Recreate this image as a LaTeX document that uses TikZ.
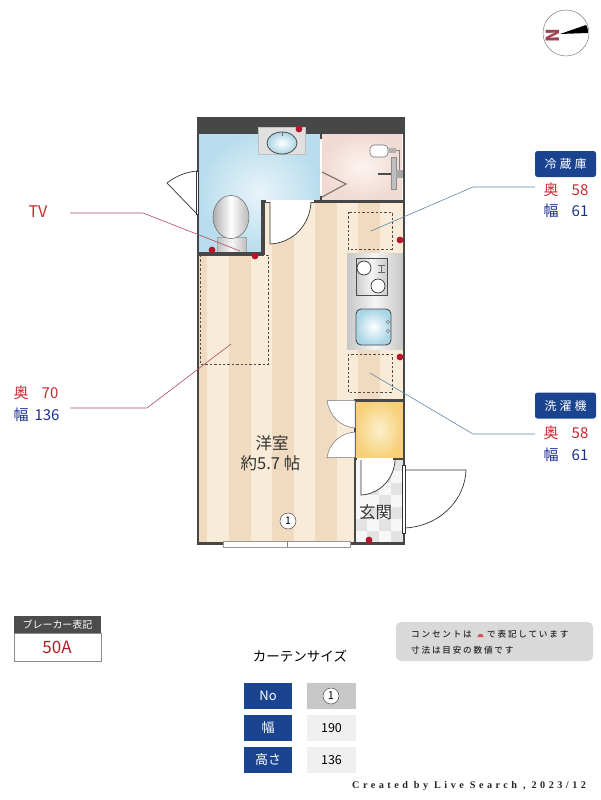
\documentclass[tikz,border=0pt]{standalone}
\usepackage{fontspec}
\setmainfont{Noto Sans CJK JP}
\newfontfamily\spacedcjk[LetterSpace=21]{Noto Sans CJK JP Medium}
\newfontfamily\widecjk[LetterSpace=25]{Noto Sans CJK JP}
\newfontfamily\creditfont[LetterSpace=34]{Liberation Serif}
\usetikzlibrary{shadings}
\definecolor{wallc}{HTML}{474747}
\definecolor{stripeA}{HTML}{F8ECD8}
\definecolor{stripeB}{HTML}{F1DBC0}
\definecolor{navy}{HTML}{1A4490}
\definecolor{redtxt}{HTML}{C8282D}
\definecolor{bluetxt}{HTML}{1B2F8E}
\definecolor{outlet}{HTML}{B5142A}
\definecolor{redline}{HTML}{B04A60}
\definecolor{blueline}{HTML}{5E86A6}
\definecolor{bathin}{HTML}{E8F4F9}
\definecolor{bathout}{HTML}{B9DDEE}
\definecolor{pinkin}{HTML}{FBF4F0}
\definecolor{pinkout}{HTML}{F1DAD2}
\definecolor{closetin}{HTML}{FBF0CC}
\definecolor{closetout}{HTML}{F7D078}
\definecolor{basinout}{HTML}{A9D5E6}
\definecolor{doorfold}{HTML}{857A73}
\newcommand{\fs}[1]{\fontsize{#1}{#1}\selectfont}
\tikzset{
  wall/.style={fill=wallc,draw=none},
  doorleaf/.style={fill=white,draw=black!80,line width=0.7pt},
  outletdot/.style={fill=outlet,draw=none},
  dashbox/.style={draw=black!70,dashed,dash pattern=on 2.4pt off 2pt,line width=0.6pt},
  redlead/.style={draw=redline,line width=0.6pt},
  bluelead/.style={draw=blueline,line width=0.6pt},
  headbox/.style={fill=navy,draw=none,text=white,minimum width=48pt,minimum height=26pt,inner sep=0pt,font=\fs{13}},
  valbox/.style={fill=black!6,draw=none,minimum width=49pt,minimum height=26pt,inner sep=0pt,font=\fs{12.5}},
  roomtxt/.style={inner sep=0pt,font=\fs{16.5},text=black!80},
  sizered/.style={inner sep=0pt,text=redtxt,font=\fs{15}},
  sizeblue/.style={inner sep=0pt,text=bluetxt,font=\fs{15}},
  fixhead/.style={fill=navy,draw=none,rounded corners=2.5pt,text=white,minimum width=61pt,minimum height=26pt,inner sep=0pt,font=\widecjk\fs{12}},
  basin/.style={draw=black!70,line width=0.8pt,inner color=white,outer color=basinout},
}
\begin{document}
\begin{tikzpicture}[x=1pt,y=-1pt]
\useasboundingbox (0,0) rectangle (600,800);
\fill[white] (0,0) rectangle (600,800);
% floor stripes
\fill[stripeB] (198,200) rectangle (404,543);
\foreach \a/\b in {207/229,251/272,294/315,337/358,380/403}{
  \fill[stripeA] (\a,200) rectangle (\b,543);
}
% bath room
\shade[inner color=bathin,outer color=bathout] (199,134) -- (320,134) -- (320,200) -- (262,200) -- (262,252) -- (199,252) -- cycle;
% shower room
\shade[inner color=pinkin,outer color=pinkout] (322,134) rectangle (402,200);
% closet
\shade[inner color=closetin,outer color=closetout] (355,400) rectangle (403,459);
% entrance tiles
\fill[black!3] (355,459) rectangle (403,543);
\foreach \x/\y in {391/459,379/471,391/483,367/483,379/495,391/507,367/507,379/519,355/519,391/531,367/531}{
  \fill[black!11] (\x,\y) rectangle ++(12,12);
}
% kitchen
\shade[left color=black!22,right color=black!22,middle color=black!4] (347,253) rectangle (403,349);
\draw[draw=black!70,line width=0.8pt,left color=black!20,right color=black!20,middle color=black!4] (356,258) rectangle (387,295);
\draw[fill=white,draw=black!80,line width=0.7pt] (364,268) circle[radius=7];
\draw[fill=white,draw=black!80,line width=0.7pt] (378,286) circle[radius=7];
\draw[draw=black!60,line width=0.7pt] (378,265) -- (385,265) (378,272) -- (385,272) (381.5,265) -- (381.5,272);
\draw[draw=black!70,line width=0.9pt,rounded corners=5pt,inner color=white,outer color=basinout] (356,309) rectangle (391,345);
\draw[draw=black!50,line width=0.6pt] (388,322) circle[radius=1.8] (388,331) circle[radius=1.8];
% toilet
\draw[draw=black!35,line width=0.5pt,left color=black!25,right color=black!25,middle color=black!3] (217,237) rectangle (246,252);
\draw[draw=black!55,line width=0.6pt,left color=black!32,right color=black!28,middle color=white] (231,217) ellipse[x radius=18,y radius=21.5];
% shower fittings
\draw[draw=black!55,line width=0.6pt,fill=white,rounded corners=4pt] (370,145) rectangle (388,157);
\fill[black!30] (388,148) rectangle (396,153);
\draw[black!50,line width=0.8pt] (396,150) -- (399,150) -- (399,172);
\draw[draw=black!45,fill=black!25,line width=0.4pt] (391,157) rectangle (396,189);
\fill[black!35] (396,170) rectangle (403,178);
\fill[black!70] (378,172.5) rectangle (391,174.5);
% walls
\fill[wall] (197,117) rectangle (405,134);
\fill[wall] (197,134) rectangle (199,545);
\fill[wall] (402.5,134) rectangle (405,545);
\fill[wall] (197,252) rectangle (264,255.5);
\fill[wall] (261,200) rectangle (264.5,255);
\fill[wall] (261,200) rectangle (404,202.5);
\fill[wall] (320,134) rectangle (322,200);
\fill[wall] (354,400) rectangle (356,545);
\fill[wall] (354,399) rectangle (404,402);
\fill[wall] (354,457.5) rectangle (404,460);
\fill[wall] (197,541.5) rectangle (405,545);
\fill[white] (320,139) rectangle (321.5,196);
% sink counter
\fill[black!12] (258,127) rectangle (305,154);
\draw[black!25,line width=0.5pt] (258,127) rectangle (305,154);
\draw[basin] (282,143) ellipse[x radius=15,y radius=11];
\draw[black!60,line width=0.6pt] (282,132) -- (282,136);
% window
\draw[fill=white,draw=black!40,line width=0.5pt] (223,541) rectangle (350,547);
\draw[black!50,line width=0.5pt] (287,541) -- (287,547);
% doors
\draw[doorleaf] (197,171) -- (197,214) -- (167,183) .. controls (176,176) and (186,172) .. cycle;
\draw[fill=white,draw=black!80,line width=0.4pt] (196.2,171) rectangle (198.4,214);
\fill[white] (266,200.4) rectangle (314,202.2);
\draw[doorleaf] (270,202) -- (270,244) .. controls (293,243) and (310,225) .. (311,202);
\draw[draw=doorfold,line width=1.2pt] (322,172) -- (346,184) -- (322,197);
\draw[draw=black!55,line width=0.5pt,fill=white] (327,400.5) -- (355,400.5) -- (355,428) .. controls (340,427) and (329,415) .. cycle;
\draw[draw=black!55,line width=0.5pt,fill=white] (327,457.5) -- (355,457.5) -- (355,432) .. controls (340,433) and (329,444) .. cycle;
\draw[doorleaf] (361,460) -- (361,495) .. controls (380,494) and (394,479) .. (395,460);
\fill[white] (357,458.4) rectangle (393,459.6);
\draw[doorleaf] (405,470) -- (466,470) .. controls (465,500) and (440,526) .. (405,528) -- cycle;
\draw[draw=black!80,fill=white,line width=0.4pt] (402,465) rectangle (405.5,533);
% dashed zones
\draw[dashbox] (348,212) rectangle (392,249);
\draw[dashbox] (348,354) rectangle (392,392);
\draw[dashbox] (200,255) rectangle (268,364);
% outlets
\foreach \x/\y in {299/129,212/250,255/256,400/240,400/357,369/540}{
  \fill[outletdot] (\x,\y) circle[radius=3.4];
}
% leaders
\coordinate (tvA) at (70,213); \coordinate (tvB) at (143,213); \coordinate (tvC) at (240,251);
\coordinate (bdA) at (70,408); \coordinate (bdB) at (147,408); \coordinate (bdC) at (231,344);
\coordinate (frA) at (535,187); \coordinate (frB) at (473,187); \coordinate (frC) at (371,231);
\coordinate (waA) at (535,434); \coordinate (waB) at (473,434); \coordinate (waC) at (370,373);
\draw[redlead] (tvA) -- (tvB) -- (tvC);
\draw[redlead] (bdA) -- (bdB) -- (bdC);
\draw[bluelead] (frA) -- (frB) -- (frC);
\draw[bluelead] (waA) -- (waB) -- (waC);
% room labels
\node[roomtxt] (room1) at (272,443.5) {洋室};
\node[roomtxt] (room2) at (270.5,463) {約5.7 帖};
\node[roomtxt] (room3) at (375.5,512) {玄関};
\node[circle,draw=black!70,fill=white,line width=0.5pt,minimum size=16pt,inner sep=0pt,font=\fs{10.5}] (win1) at (288,521) {1};
% left labels
\node[inner sep=0pt,text=redtxt,font=\fs{16}] (tv) at (38,212) {TV};
\node[sizered] (bdk) at (21,393) {奥};
\node[sizered] (bdkv) at (50,393) {70};
\node[sizeblue] (bdw) at (21,415) {幅};
\node[sizeblue] (bdwv) at (47,415) {136};
% fridge
\node[fixhead] (frh) at (565.5,164) {冷蔵庫};
\node[sizered] (frk) at (551,190) {奥};
\node[sizered] (frkv) at (580,190) {58};
\node[sizeblue] (frw) at (551,211) {幅};
\node[sizeblue] (frwv) at (580,211) {61};
% washer
\node[fixhead] (wah) at (565.5,405.5) {洗濯機};
\node[sizered] (wak) at (551,433) {奥};
\node[sizered] (wakv) at (580,433) {58};
\node[sizeblue] (waw) at (551,455) {幅};
\node[sizeblue] (wawv) at (580,455) {61};
% breaker
\draw[draw=black!45,fill=white,line width=0.5pt] (14,633) rectangle (101,661);
\node[fill=black!70,text=white,minimum width=87pt,minimum height=17.5pt,inner sep=0pt,font=\fs{10}] (brh) at (57.5,624.5) {ブレーカー表記};
\node[inner sep=0pt,text=redtxt!85!black,font=\fs{17}] (brv) at (57,647) {50A};
% curtain table
\node[inner sep=0pt,font=\fs{13.5}] (cur) at (300,656) {カーテンサイズ};
\node[headbox] (h1) at (268,696) {No};
\node[headbox] (h2) at (268,728) {幅};
\node[headbox] (h3) at (268,760) {高さ};
\node[valbox,fill=black!22] (v1) at (331.5,696) {};
\node[circle,draw=black!70,fill=white,line width=0.5pt,minimum size=16pt,inner sep=0pt,font=\fs{11}] (v1n) at (331,696) {1};
\node[valbox] (v2) at (331.5,728) {190};
\node[valbox] (v3) at (331.5,760) {136};
% note
\fill[black!15,rounded corners=5pt] (396,622) rectangle (593,661);
\node[anchor=west,inner sep=0pt,font=\spacedcjk\fs{8.6},text=black!85] (n1) at (411,634) {コンセントは};
\fill[redtxt!80!white] (477.3,637) -- (483.7,637) arc[start angle=0,end angle=-180,radius=3.2] -- cycle;
\node[anchor=west,inner sep=0pt,font=\spacedcjk\fs{8.6},text=black!85] (n2) at (487,634) {で表記しています};
\node[anchor=west,inner sep=0pt,font=\spacedcjk\fs{8.6},text=black!85] (n3) at (411,650) {寸法は目安の数値です};
% credit
\node[anchor=west,inner sep=0pt,font=\creditfont\bfseries\fs{10.2},text=black!85] (cr) at (352,786) {Created by Live Search , 2023/12};
% compass
\draw[black!60,line width=0.4pt] (566,33) circle[radius=23];
\fill[black] (560,34) -- (586,25) .. controls (588,28) and (588,31) .. (588,33) -- cycle;
\node[inner sep=0pt,rotate=90,text=redline!90!black,font=\bfseries\fs{18}] (north) at (553,36) {N};
\end{tikzpicture}
\end{document}
